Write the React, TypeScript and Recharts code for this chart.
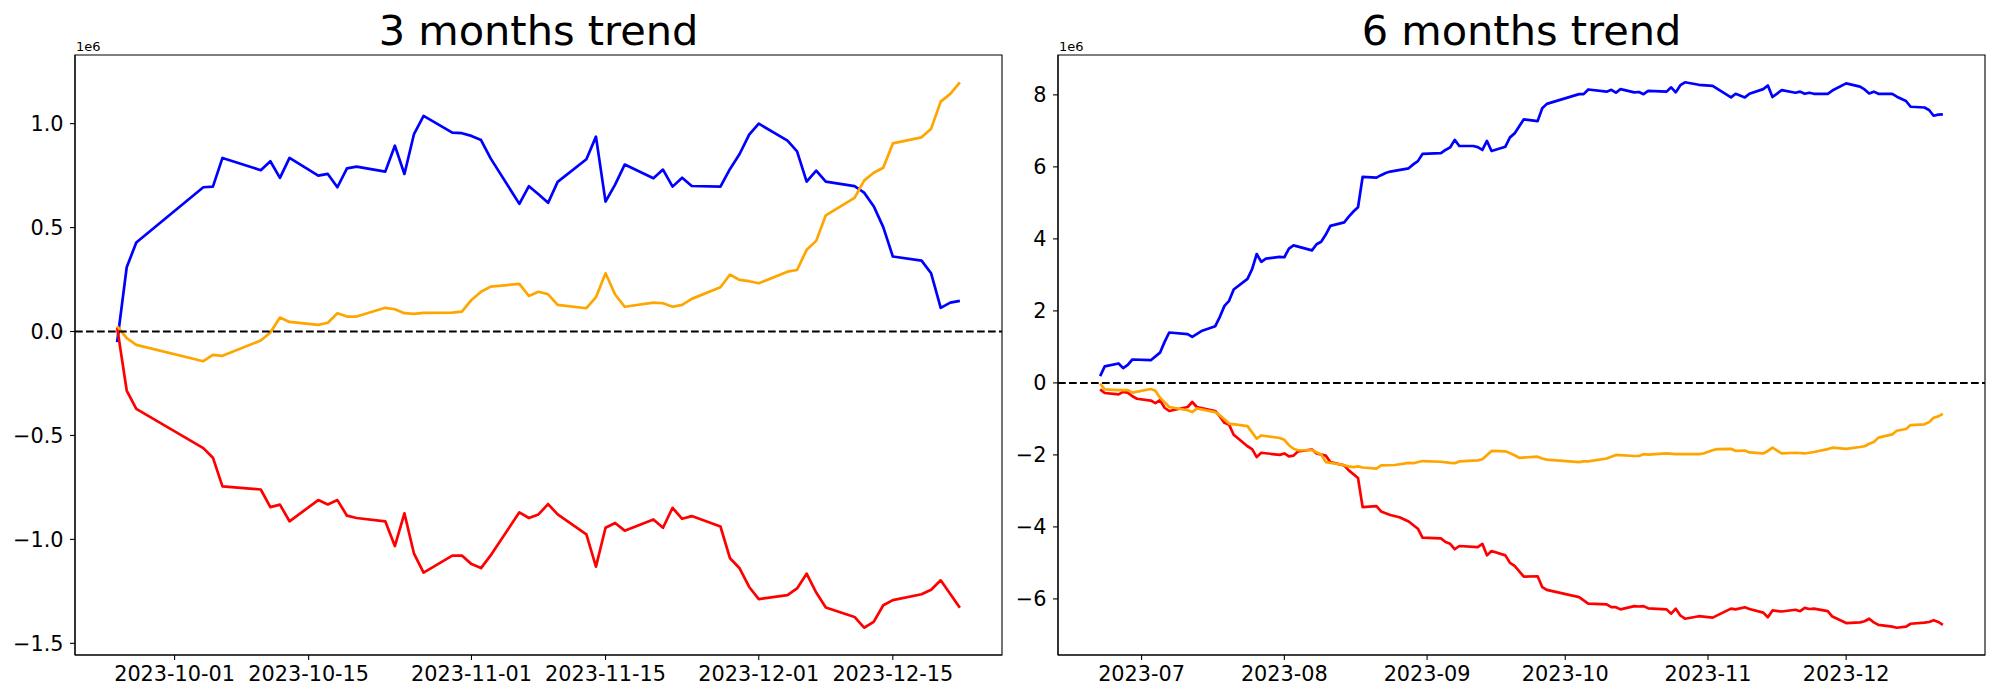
import React from 'react';
import { LineChart, Line, XAxis, YAxis, ReferenceLine, ReferenceArea } from 'recharts';

// ---------- 3 months trend (values in 1e6) ----------
const dates3m = [
  '2023-09-25', '2023-09-26', '2023-09-27', '2023-10-04', '2023-10-05', '2023-10-06', '2023-10-10', '2023-10-11',
  '2023-10-12', '2023-10-13', '2023-10-16', '2023-10-17', '2023-10-18', '2023-10-19', '2023-10-20', '2023-10-23',
  '2023-10-24', '2023-10-25', '2023-10-26', '2023-10-27', '2023-10-30', '2023-10-31', '2023-11-01', '2023-11-02',
  '2023-11-03', '2023-11-06', '2023-11-07', '2023-11-08', '2023-11-09', '2023-11-10', '2023-11-13', '2023-11-14',
  '2023-11-15', '2023-11-16', '2023-11-17', '2023-11-20', '2023-11-21', '2023-11-22', '2023-11-23', '2023-11-24',
  '2023-11-27', '2023-11-28', '2023-11-29', '2023-11-30', '2023-12-01', '2023-12-04', '2023-12-05', '2023-12-06',
  '2023-12-07', '2023-12-08', '2023-12-11', '2023-12-12', '2023-12-13', '2023-12-14', '2023-12-15', '2023-12-18',
  '2023-12-19', '2023-12-20', '2023-12-21', '2023-12-22',
];
const blue3m = [
  -0.051, 0.309, 0.428, 0.694, 0.697, 0.835, 0.776, 0.819, 0.739, 0.835,
  0.75, 0.758, 0.694, 0.785, 0.793, 0.769, 0.894, 0.758, 0.95, 1.037,
  0.957, 0.954, 0.941, 0.921, 0.833, 0.614, 0.699, 0.66, 0.619, 0.72,
  0.829, 0.9375, 0.625, 0.707, 0.803, 0.737, 0.779, 0.697, 0.74, 0.7,
  0.697, 0.782, 0.854, 0.947, 1.0, 0.918, 0.867, 0.721, 0.774, 0.721,
  0.699, 0.668, 0.603, 0.502, 0.361, 0.341, 0.28, 0.114, 0.139, 0.147,
];
const orange3m = [
  0.026, -0.032, -0.064, -0.143, -0.112, -0.117, -0.043, -0.005, 0.067, 0.046,
  0.032, 0.042, 0.088, 0.072, 0.072, 0.114, 0.107, 0.088, 0.085, 0.09,
  0.091, 0.096, 0.152, 0.191, 0.216, 0.229, 0.171, 0.191, 0.179, 0.128,
  0.112, 0.165, 0.28, 0.178, 0.119, 0.139, 0.136, 0.119, 0.128, 0.157,
  0.213, 0.274, 0.248, 0.242, 0.232, 0.288, 0.296, 0.393, 0.436, 0.559,
  0.643, 0.726, 0.764, 0.788, 0.905, 0.934, 0.976, 1.106, 1.143, 1.199,
];
const red3m = [
  0.02, -0.284, -0.372, -0.561, -0.607, -0.745, -0.76, -0.845, -0.833, -0.913,
  -0.811, -0.832, -0.811, -0.886, -0.897, -0.913, -1.032, -0.875, -1.069, -1.16,
  -1.078, -1.078, -1.119, -1.138, -1.077, -0.87, -0.897, -0.88, -0.83, -0.88,
  -0.976, -1.131, -0.944, -0.921, -0.958, -0.904, -0.944, -0.848, -0.901, -0.888,
  -0.938, -1.091, -1.139, -1.229, -1.287, -1.268, -1.236, -1.165, -1.256, -1.328,
  -1.373, -1.425, -1.397, -1.317, -1.292, -1.264, -1.242, -1.197, -1.263, -1.329,
];
const xTickLabels3m = ['2023-10-01', '2023-10-15', '2023-11-01', '2023-11-15', '2023-12-01', '2023-12-15'];
const yTicks3m = [-1.5, -1.0, -0.5, 0.0, 0.5, 1.0];

// ---------- 6 months trend (values in 1e6) ----------
const blue6m: [string, number][] = [
  ['2023-06-22', 0.19], ['2023-06-23', 0.46], ['2023-06-26', 0.54], ['2023-06-27', 0.41], ['2023-06-28', 0.5],
  ['2023-06-29', 0.65], ['2023-07-03', 0.63], ['2023-07-05', 0.84], ['2023-07-06', 1.14], ['2023-07-07', 1.4],
  ['2023-07-11', 1.355], ['2023-07-12', 1.28], ['2023-07-14', 1.44], ['2023-07-17', 1.575], ['2023-07-18', 1.835],
  ['2023-07-19', 2.14], ['2023-07-20', 2.28], ['2023-07-21', 2.595], ['2023-07-24', 2.89], ['2023-07-25', 3.16],
  ['2023-07-26', 3.58], ['2023-07-27', 3.36], ['2023-07-28', 3.45], ['2023-07-31', 3.5], ['2023-08-01', 3.49],
  ['2023-08-02', 3.73], ['2023-08-03', 3.82], ['2023-08-07', 3.68], ['2023-08-08', 3.85], ['2023-08-09', 3.92],
  ['2023-08-10', 4.12], ['2023-08-11', 4.36], ['2023-08-14', 4.46], ['2023-08-15', 4.62], ['2023-08-16', 4.76],
  ['2023-08-17', 4.88], ['2023-08-18', 5.72], ['2023-08-21', 5.7], ['2023-08-22', 5.77], ['2023-08-23', 5.83],
  ['2023-08-24', 5.87], ['2023-08-28', 5.96], ['2023-08-29', 6.07], ['2023-08-30', 6.16], ['2023-08-31', 6.36],
  ['2023-09-04', 6.38], ['2023-09-05', 6.47], ['2023-09-06', 6.54], ['2023-09-07', 6.75], ['2023-09-08', 6.58],
  ['2023-09-11', 6.58], ['2023-09-12', 6.55], ['2023-09-13', 6.47], ['2023-09-14', 6.72], ['2023-09-15', 6.44],
  ['2023-09-18', 6.56], ['2023-09-19', 6.82], ['2023-09-20', 6.93], ['2023-09-22', 7.32], ['2023-09-25', 7.27],
  ['2023-09-26', 7.63], ['2023-09-27', 7.75], ['2023-10-04', 8.02], ['2023-10-05', 8.02], ['2023-10-06', 8.15],
  ['2023-10-10', 8.09], ['2023-10-11', 8.14], ['2023-10-12', 8.06], ['2023-10-13', 8.16], ['2023-10-16', 8.07],
  ['2023-10-17', 8.08], ['2023-10-18', 8.02], ['2023-10-19', 8.11], ['2023-10-23', 8.09], ['2023-10-24', 8.21],
  ['2023-10-25', 8.07], ['2023-10-26', 8.27], ['2023-10-27', 8.35], ['2023-10-30', 8.28], ['2023-11-02', 8.25],
  ['2023-11-06', 7.93], ['2023-11-07', 8.03], ['2023-11-09', 7.93], ['2023-11-10', 8.03], ['2023-11-13', 8.16],
  ['2023-11-14', 8.26], ['2023-11-15', 7.94], ['2023-11-17', 8.13], ['2023-11-20', 8.06], ['2023-11-21', 8.09],
  ['2023-11-22', 8.03], ['2023-11-23', 8.06], ['2023-11-24', 8.03], ['2023-11-27', 8.03], ['2023-11-28', 8.12],
  ['2023-12-01', 8.32], ['2023-12-04', 8.23], ['2023-12-05', 8.15], ['2023-12-06', 8.04], ['2023-12-07', 8.09],
  ['2023-12-08', 8.03], ['2023-12-11', 8.03], ['2023-12-12', 7.95], ['2023-12-14', 7.83], ['2023-12-15', 7.67],
  ['2023-12-18', 7.65], ['2023-12-19', 7.58], ['2023-12-20', 7.42], ['2023-12-21', 7.45], ['2023-12-22', 7.46],
];
const orange6m: [string, number][] = [
  ['2023-06-22', -0.02], ['2023-06-23', -0.18], ['2023-06-26', -0.2], ['2023-06-28', -0.2], ['2023-06-29', -0.27],
  ['2023-07-03', -0.17], ['2023-07-04', -0.22], ['2023-07-05', -0.41], ['2023-07-07', -0.67], ['2023-07-11', -0.76],
  ['2023-07-12', -0.81], ['2023-07-13', -0.71], ['2023-07-17', -0.81], ['2023-07-18', -0.9], ['2023-07-20', -1.13],
  ['2023-07-24', -1.2], ['2023-07-26', -1.55], ['2023-07-27', -1.46], ['2023-07-31', -1.53], ['2023-08-01', -1.58],
  ['2023-08-02', -1.73], ['2023-08-03', -1.83], ['2023-08-04', -1.87], ['2023-08-07', -1.87], ['2023-08-09', -1.99],
  ['2023-08-10', -2.2], ['2023-08-13', -2.26], ['2023-08-15', -2.32], ['2023-08-16', -2.34], ['2023-08-17', -2.32],
  ['2023-08-18', -2.35], ['2023-08-21', -2.38], ['2023-08-22', -2.29], ['2023-08-25', -2.28], ['2023-08-28', -2.22],
  ['2023-08-29', -2.23], ['2023-08-31', -2.17], ['2023-09-04', -2.19], ['2023-09-06', -2.22], ['2023-09-07', -2.23],
  ['2023-09-08', -2.18], ['2023-09-12', -2.15], ['2023-09-13', -2.12], ['2023-09-15', -1.89], ['2023-09-18', -1.9],
  ['2023-09-19', -1.95], ['2023-09-20', -2.01], ['2023-09-21', -2.08], ['2023-09-25', -2.05], ['2023-09-26', -2.1],
  ['2023-09-27', -2.13], ['2023-10-04', -2.2], ['2023-10-05', -2.18], ['2023-10-06', -2.18], ['2023-10-10', -2.1],
  ['2023-10-12', -2.0], ['2023-10-16', -2.03], ['2023-10-17', -2.03], ['2023-10-18', -1.98], ['2023-10-19', -1.99],
  ['2023-10-23', -1.96], ['2023-10-25', -1.98], ['2023-10-30', -1.98], ['2023-10-31', -1.96], ['2023-11-02', -1.87],
  ['2023-11-03', -1.84], ['2023-11-06', -1.83], ['2023-11-07', -1.89], ['2023-11-09', -1.88], ['2023-11-10', -1.93],
  ['2023-11-13', -1.96], ['2023-11-14', -1.89], ['2023-11-15', -1.8], ['2023-11-17', -1.96], ['2023-11-20', -1.94],
  ['2023-11-22', -1.96], ['2023-11-24', -1.92], ['2023-11-27', -1.84], ['2023-11-28', -1.8], ['2023-12-01', -1.83],
  ['2023-12-04', -1.78], ['2023-12-05', -1.76], ['2023-12-06', -1.69], ['2023-12-07', -1.64], ['2023-12-08', -1.52],
  ['2023-12-11', -1.43], ['2023-12-12', -1.33], ['2023-12-14', -1.28], ['2023-12-15', -1.17], ['2023-12-18', -1.15],
  ['2023-12-19', -1.09], ['2023-12-20', -0.97], ['2023-12-21', -0.93], ['2023-12-22', -0.86],
];
const red6m: [string, number][] = [
  ['2023-06-22', -0.18], ['2023-06-23', -0.28], ['2023-06-26', -0.32], ['2023-06-27', -0.25], ['2023-06-28', -0.27],
  ['2023-06-29', -0.37], ['2023-06-30', -0.44], ['2023-07-03', -0.49], ['2023-07-04', -0.56], ['2023-07-05', -0.48],
  ['2023-07-06', -0.69], ['2023-07-07', -0.78], ['2023-07-11', -0.67], ['2023-07-12', -0.53], ['2023-07-13', -0.67],
  ['2023-07-17', -0.78], ['2023-07-18', -0.93], ['2023-07-19', -1.11], ['2023-07-20', -1.16], ['2023-07-21', -1.44],
  ['2023-07-24', -1.76], ['2023-07-25', -1.84], ['2023-07-26', -2.06], ['2023-07-27', -1.94], ['2023-07-31', -2.0],
  ['2023-08-01', -1.96], ['2023-08-02', -2.04], ['2023-08-03', -2.02], ['2023-08-04', -1.9], ['2023-08-07', -1.85],
  ['2023-08-08', -1.96], ['2023-08-10', -2.02], ['2023-08-11', -2.2], ['2023-08-14', -2.29], ['2023-08-15', -2.43],
  ['2023-08-17', -2.64], ['2023-08-18', -3.45], ['2023-08-21', -3.42], ['2023-08-22', -3.57], ['2023-08-24', -3.67],
  ['2023-08-26', -3.73], ['2023-08-28', -3.85], ['2023-08-30', -4.05], ['2023-08-31', -4.3], ['2023-09-04', -4.32],
  ['2023-09-05', -4.42], ['2023-09-06', -4.47], ['2023-09-07', -4.62], ['2023-09-08', -4.53], ['2023-09-12', -4.56],
  ['2023-09-13', -4.47], ['2023-09-14', -4.79], ['2023-09-15', -4.67], ['2023-09-18', -4.79], ['2023-09-19', -5.0],
  ['2023-09-20', -5.08], ['2023-09-22', -5.38], ['2023-09-25', -5.37], ['2023-09-26', -5.67], ['2023-09-27', -5.75],
  ['2023-10-04', -5.95], ['2023-10-05', -6.04], ['2023-10-06', -6.13], ['2023-10-10', -6.15], ['2023-10-11', -6.23],
  ['2023-10-12', -6.23], ['2023-10-13', -6.29], ['2023-10-16', -6.2], ['2023-10-17', -6.21], ['2023-10-18', -6.2],
  ['2023-10-19', -6.26], ['2023-10-23', -6.29], ['2023-10-24', -6.41], ['2023-10-25', -6.27], ['2023-10-26', -6.46],
  ['2023-10-27', -6.55], ['2023-10-30', -6.48], ['2023-11-02', -6.52], ['2023-11-06', -6.27], ['2023-11-07', -6.29],
  ['2023-11-09', -6.23], ['2023-11-10', -6.28], ['2023-11-13', -6.38], ['2023-11-14', -6.51], ['2023-11-15', -6.32],
  ['2023-11-17', -6.35], ['2023-11-20', -6.3], ['2023-11-21', -6.34], ['2023-11-22', -6.25], ['2023-11-23', -6.28],
  ['2023-11-24', -6.27], ['2023-11-27', -6.34], ['2023-11-28', -6.49], ['2023-12-01', -6.67], ['2023-12-04', -6.65],
  ['2023-12-05', -6.62], ['2023-12-06', -6.55], ['2023-12-07', -6.65], ['2023-12-08', -6.72], ['2023-12-11', -6.77],
  ['2023-12-12', -6.8], ['2023-12-14', -6.77], ['2023-12-15', -6.69], ['2023-12-18', -6.66], ['2023-12-19', -6.64],
  ['2023-12-20', -6.59], ['2023-12-21', -6.64], ['2023-12-22', -6.72],
];
const xTickLabels6m = ['2023-07', '2023-08', '2023-09', '2023-10', '2023-11', '2023-12'];
const yTicks6m = [-6, -4, -2, 0, 2, 4, 6, 8];

const titles = ['3 months trend', '6 months trend'];
const offsetLabel = '1e6';

// ---------- helpers ----------
const DAY = 86400000;
const toDay = (s: string) => {
  const [y, m, d] = s.split('-').map(Number);
  return Date.UTC(y, m - 1, d || 1) / DAY;
};
const padded = (vals: number[]): [number, number] => {
  const lo = Math.min(...vals);
  const hi = Math.max(...vals);
  const r = hi - lo;
  return [lo - 0.05 * r, hi + 0.05 * r];
};
const minus = (s: string) => s.replace('-', '\u2212');

const FONT = 'DejaVu Sans, Verdana, sans-serif';
const BLUE = '#0000ff';
const ORANGE = '#ffa500';
const RED = '#ff0000';

type Series = { color: string; rows: { t: number; v: number }[] };

const rows3m = (vals: number[]) => dates3m.map((d, i) => ({ t: toDay(d), v: vals[i] }));
const rows6m = (pairs: [string, number][]) => pairs.map(([d, v]) => ({ t: toDay(d), v }));

const series3m: Series[] = [
  { color: BLUE, rows: rows3m(blue3m) },
  { color: RED, rows: rows3m(red3m) },
  { color: ORANGE, rows: rows3m(orange3m) },
];
const series6m: Series[] = [
  { color: BLUE, rows: rows6m(blue6m) },
  { color: RED, rows: rows6m(red6m) },
  { color: ORANGE, rows: rows6m(orange6m) },
];

type PanelProps = {
  left: number;
  width: number;
  yAxisWidth: number;
  rightMargin: number;
  title: string;
  series: Series[];
  xTickLabels: string[];
  yTicks: number[];
  yFmt: (v: number) => string;
};

const TOP = 55;
const XAXIS_H = 45;
const HEIGHT = 700;

function Panel({ left, width, yAxisWidth, rightMargin, title, series, xTickLabels, yTicks, yFmt }: PanelProps) {
  const allT = series.flatMap((s) => s.rows.map((r) => r.t));
  const allV = series.flatMap((s) => s.rows.map((r) => r.v));
  const xDomain = padded(allT);
  const yDomain = padded(allV);
  const xTicks = xTickLabels.map(toDay);
  const labelOf = new Map(xTicks.map((t, i) => [t, xTickLabels[i]]));
  const plotLeft = left + yAxisWidth;
  const plotWidth = width - yAxisWidth - rightMargin;

  return (
    <>
      <div
        style={{
          position: 'absolute',
          left: plotLeft,
          width: plotWidth,
          top: 10,
          textAlign: 'center',
          fontFamily: FONT,
          fontSize: 41.5,
          lineHeight: '41px',
          color: '#000',
          whiteSpace: 'nowrap',
        }}
      >
        {title}
      </div>
      <div
        style={{
          position: 'absolute',
          left: plotLeft + 1,
          top: 40,
          fontFamily: FONT,
          fontSize: 13,
          lineHeight: '13px',
          color: '#000',
        }}
      >
        {offsetLabel}
      </div>
      <div style={{ position: 'absolute', left, top: 0 }}>
        <LineChart
          width={width}
          height={HEIGHT}
          margin={{ top: TOP, right: rightMargin, bottom: 0, left: 0 }}
        >
          <XAxis
            type="number"
            dataKey="t"
            domain={xDomain}
            allowDataOverflow
            ticks={xTicks}
            interval={0}
            height={XAXIS_H}
            tickFormatter={(t: number) => labelOf.get(t) ?? ''}
            tick={{ fill: '#000', fontSize: 20.8, fontFamily: FONT }}
            tickLine={{ stroke: '#000', strokeWidth: 1.1 }}
            axisLine={{ stroke: '#000', strokeWidth: 1.1 }}
            tickSize={5}
            tickMargin={6.5}
          />
          <YAxis
            type="number"
            domain={yDomain}
            allowDataOverflow
            ticks={yTicks}
            interval={0}
            width={yAxisWidth}
            tickFormatter={(v: number) => minus(yFmt(v))}
            tick={{ fill: '#000', fontSize: 20.8, fontFamily: FONT }}
            tickLine={{ stroke: '#000', strokeWidth: 1.1 }}
            axisLine={{ stroke: '#000', strokeWidth: 1.1 }}
            tickSize={5}
            tickMargin={6.5}
          />
          <ReferenceArea
            x1={xDomain[0]}
            x2={xDomain[1]}
            y1={yDomain[0]}
            y2={yDomain[1]}
            fill="none"
            fillOpacity={0}
            stroke="#000"
            strokeWidth={1.1}
            ifOverflow="visible"
          />
          {series.map((s, i) => (
            <Line
              key={i}
              data={s.rows}
              dataKey="v"
              type="linear"
              stroke={s.color}
              strokeWidth={2.7}
              strokeLinejoin="round"
              dot={false}
              activeDot={false}
              isAnimationActive={false}
            />
          ))}
          <ReferenceLine y={0} stroke="#000" strokeWidth={2} strokeDasharray="7.7 3.3" />
        </LineChart>
      </div>
    </>
  );
}

export default function App() {
  return (
    <div style={{ position: 'absolute', left: 0, top: 0, width: 2000, height: 700, background: '#fff' }}>
      <Panel
        left={0}
        width={1010}
        yAxisWidth={75}
        rightMargin={8}
        title={titles[0]}
        series={series3m}
        xTickLabels={xTickLabels3m}
        yTicks={yTicks3m}
        yFmt={(v) => v.toFixed(1)}
      />
      <Panel
        left={1000}
        width={1000}
        yAxisWidth={58}
        rightMargin={15}
        title={titles[1]}
        series={series6m}
        xTickLabels={xTickLabels6m}
        yTicks={yTicks6m}
        yFmt={(v) => v.toFixed(0)}
      />
    </div>
  );
}
